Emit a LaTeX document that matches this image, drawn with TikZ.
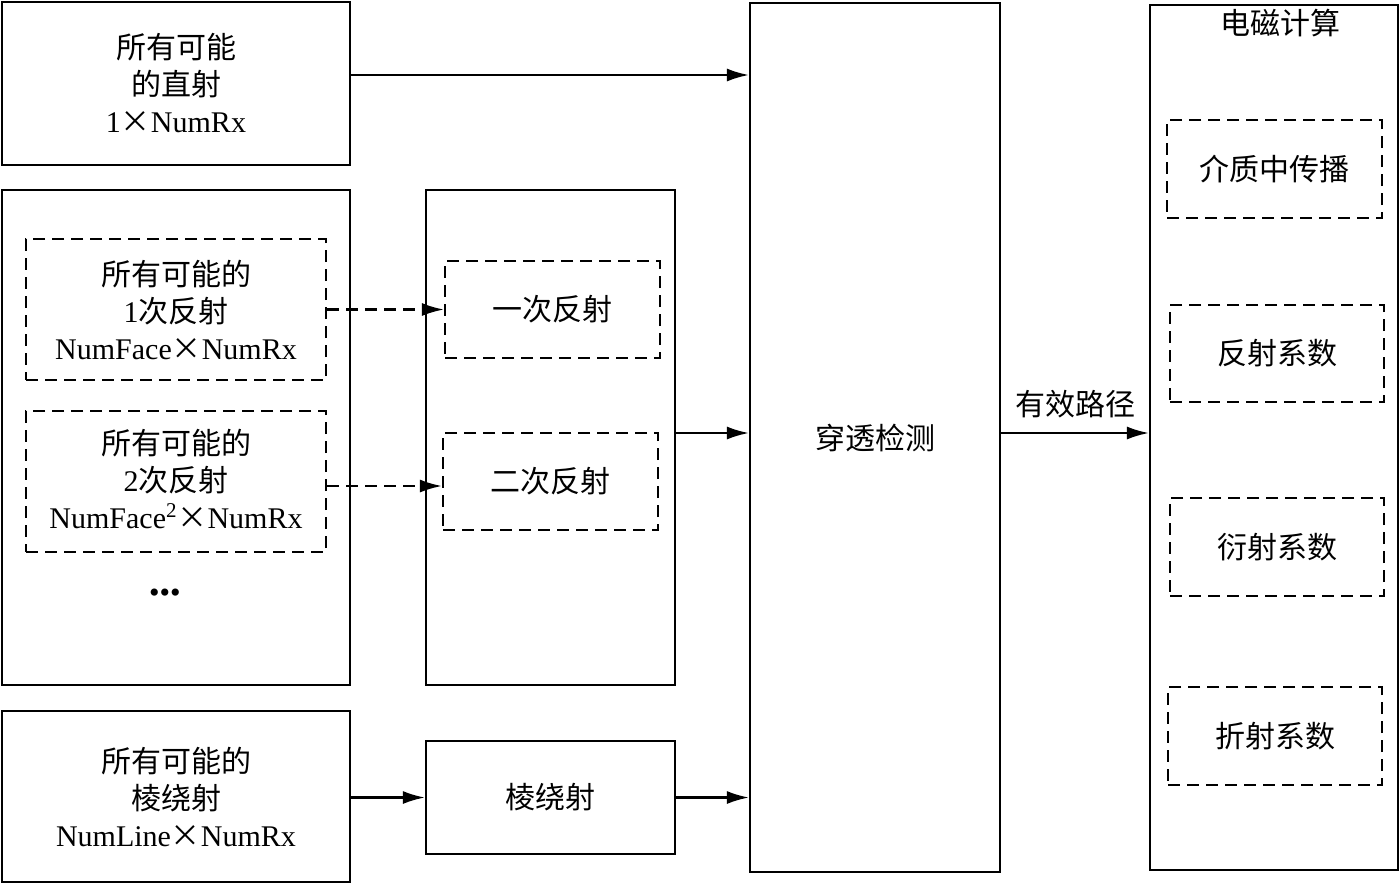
\documentclass[tikz,border=0pt]{standalone}
\usepackage{fontspec}
\setmainfont{Liberation Serif}
\newfontfamily\zh{Noto Sans CJK SC}
\usetikzlibrary{arrows.meta}
\newcommand\mtimes{{\zh ×}}
\begin{document}
\begin{tikzpicture}[x=0.5pt,y=-0.5pt,
  box/.style={draw, line width=1.1pt, inner sep=0pt, align=center,
    font=\fontsize{15}{18.5}\selectfont},
  dbox/.style={box, dash pattern=on 6pt off 3.5pt},
  lbl/.style={inner sep=0pt, align=center, font=\fontsize{15}{18.5}\selectfont},
  arr/.style={-{Latex[length=11pt,width=6.5pt]}, line width=1.1pt},
  darr/.style={arr, dash pattern=on 6pt off 3.5pt}]
\useasboundingbox (0,0) rectangle (1400,884);
% left column
\node[box, minimum width=174pt, minimum height=81.5pt] (direct) at (176,83.5)
  {{\zh 所有可能}\\{\zh 的直射}\\1\mtimes NumRx};
\node[box, minimum width=174pt, minimum height=247.5pt] (left) at (176,437.5) {};
\node[dbox, minimum width=150pt, minimum height=70.5pt] (d1) at (176,309.5)
  {{\zh 所有可能的}\\1{\zh 次反射}\\NumFace\mtimes NumRx};
\node[dbox, minimum width=150pt, minimum height=70.5pt] (d2) at (176,481.5) {};
\node[lbl] (d2t) at (176,478.5)
  {{\zh 所有可能的}\\2{\zh 次反射}\\NumFace\textsuperscript{2}\mtimes NumRx};
\node[lbl] (dots) at (165,596) {•••};
\node[box, minimum width=174pt, minimum height=85.5pt] (edge) at (176,796.5)
  {{\zh 所有可能的}\\{\zh 棱绕射}\\NumLine\mtimes NumRx};
% middle column
\node[box, minimum width=124.5pt, minimum height=247.5pt] (mid) at (550.5,437.5) {};
\node[dbox, minimum width=107.5pt, minimum height=48.5pt] (r1) at (552.5,309.5) {\zh 一次反射};
\node[dbox, minimum width=107.5pt, minimum height=48.5pt] (r2) at (550.5,481.5) {\zh 二次反射};
\node[box, minimum width=124.5pt, minimum height=56.5pt] (edgeb) at (550.5,797.5) {\zh 棱绕射};
% penetration
\node[box, minimum width=125pt, minimum height=434.5pt] (pen) at (875,437.5) {\zh 穿透检测};
% EM
\node[box, minimum width=124pt, minimum height=432.5pt] (em) at (1274,437.5) {};
\node[lbl] (emt) at (1280,23) {\zh 电磁计算};
\node[dbox, minimum width=107.5pt, minimum height=49pt] (e1) at (1274.5,169) {\zh 介质中传播};
\node[dbox, minimum width=107pt, minimum height=48.5pt] (e2) at (1277,353.5) {\zh 反射系数};
\node[dbox, minimum width=107pt, minimum height=49pt] (e3) at (1277,547) {\zh 衍射系数};
\node[dbox, minimum width=107pt, minimum height=49pt] (e4) at (1275,736) {\zh 折射系数};
% connectors
\coordinate (c75) at (0,75);
\coordinate (c433) at (0,433);
\coordinate (c486) at (0,486);
\draw[arr] (direct.east |- c75) -- (pen.west |- c75);
\draw[darr] (d1.east) -- (r1.west);
\draw[darr] (d2.east |- c486) -- (r2.west |- c486);
\draw[arr] (mid.east |- c433) -- (pen.west |- c433);
\draw[arr] (edge.east |- edgeb.west) -- (edgeb.west);
\draw[arr] (edgeb.east) -- (pen.west |- edgeb.east);
\draw[arr] (pen.east |- c433) -- node[lbl, above=7pt] (valid) {\zh 有效路径} (em.west |- c433);
\end{tikzpicture}
\end{document}
